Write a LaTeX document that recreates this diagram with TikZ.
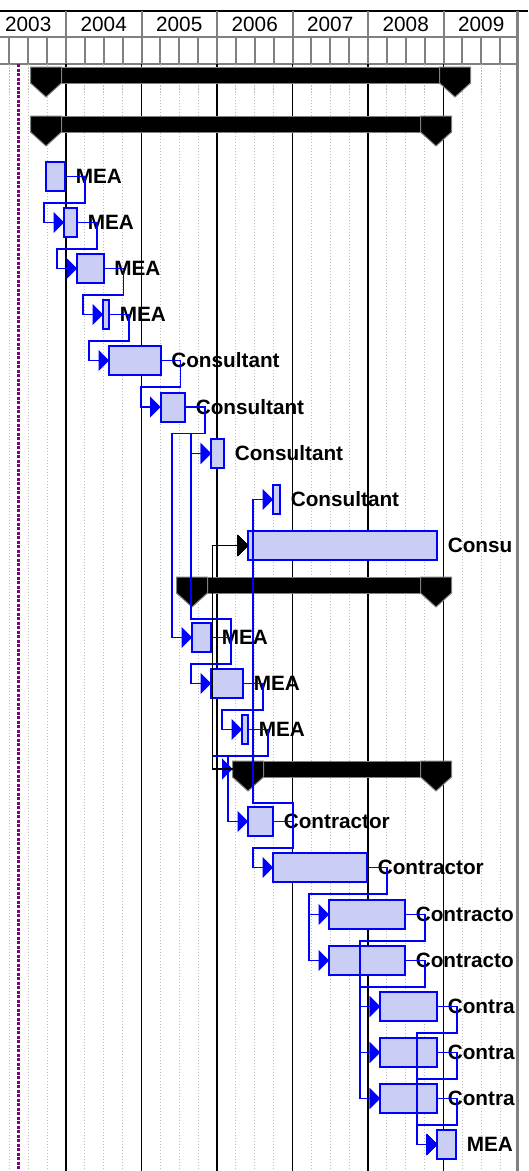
\documentclass[tikz,border=0pt]{standalone}
\usepackage{fontspec}
\setmainfont{Liberation Sans}
\usetikzlibrary{arrows.meta, calc, positioning}

\definecolor{barblue}{RGB}{0,0,255}
\definecolor{barfill}{RGB}{202,206,244}
\definecolor{gridgray}{RGB}{128,128,128}
\definecolor{todaypurple}{RGB}{128,0,128}

\tikzset{
  taskbox/.style={draw=barblue, line width=0.04cm, fill=barfill, inner sep=0pt, outer sep=0pt, minimum height=0.58cm, anchor=north west},
  sumbox/.style={fill=black, draw=gray, line width=0.02cm, inner sep=0pt, outer sep=0pt, minimum height=0.32cm, anchor=north west},
  sumcap/.style={fill=black, draw=gray, line width=0.02cm},
  tasklabel/.style={anchor=west, inner sep=0pt, font=\bfseries\fontsize{11.8}{14}\selectfont},
  yearlabel/.style={inner sep=0pt, font=\fontsize{11.8}{14}\selectfont},
  link/.style={draw=barblue, line width=0.03cm, -{Triangle[length=0.21cm,width=0.42cm]}},
  sslink/.style={draw=black, line width=0.03cm, -{Triangle[length=0.21cm,width=0.42cm]}},
}

% task bar: name, top, start, end, label
\newcommand{\taskbar}[5]{%
  \node[taskbox, minimum width={(#4-#3)*0.02cm}] (#1) at (#3,#2) {};
  \node[tasklabel] (#1-lab) at ($(#1.east)+(10.5,0)$) {#5};
}
% summary bar: name, top, start, end
\newcommand{\sumbar}[4]{%
  \node[sumbox, minimum width={(#4-#3+31)*0.02cm}] (#1) at ({#3-15.5},#2) {};
  \filldraw[sumcap] (#1.north west) -- ++(31,0) -- ++(0,16) -- ++(-15.5,14) -- ++(-15.5,-14) -- cycle;
  \filldraw[sumcap] (#1.north east) -- ++(-31,0) -- ++(0,16) -- ++(15.5,14) -- ++(15.5,-14) -- cycle;
}
% finish-start link, successor below / above
\newcommand{\fwdlink}[2]{%
  \coordinate (lnkturn) at ($(#1.south)+(0,12)$);
  \coordinate (lnkin) at ($(#2.west)+(-20,0)$);
  \draw[link] (#1.east) -- ++(20,0) |- (lnkin |- lnkturn) -- (lnkin) -- (#2.west);
}
\newcommand{\backlink}[2]{%
  \coordinate (lnkturn) at ($(#1.north)+(0,-4)$);
  \coordinate (lnkin) at ($(#2.west)+(-20,0)$);
  \draw[link] (#1.east) -- ++(20,0) |- (lnkin |- lnkturn) -- (lnkin) -- (#2.west);
}

\begin{document}
\begin{tikzpicture}[x=0.02cm, y=-0.02cm]
  \useasboundingbox (0,0) rectangle (528,1171);

  % timescale
  \draw[line width=0.04cm] (0,11) -- (528,11);
  \draw[gridgray, line width=0.04cm] (0,37) -- (517.5,37) (0,64) -- (517.5,64);
  \foreach \k in {1,...,27} {
    \pgfmathsetmacro{\qx}{-9.5+18.875*\k}
    \pgfmathtruncatemacro{\qm}{mod(\k,4)}
    \draw[gridgray, line width=0.04cm] (\qx,37) -- (\qx,64);
    \ifnum\qm=0
      \draw[gridgray, line width=0.04cm] (\qx,11) -- (\qx,37);
      \draw[line width=0.025cm] (\qx,64) -- (\qx,1171);
    \else
      \draw[gray!50, line width=0.02cm, dash pattern=on 0.03cm off 0.03cm] (\qx,64) -- (\qx,1171);
    \fi
  }
  \foreach \yr [count=\i from 0] in {2003,...,2009}
    \node[yearlabel] (y\yr) at ({28.25+75.5*\i},24.5) {\yr};
  \draw[gridgray, line width=0.06cm] (517.5,11) -- (517.5,1171);

  % status date
  \draw[todaypurple, line width=0.05cm, dash pattern=on 0.06cm off 0.03cm] (18.5,64) -- (18.5,1171);

  % summaries
  \sumbar{s0}{67}{46}{455}
  \sumbar{s1}{116}{46}{436}
  \sumbar{s11}{577}{192}{436}
  \sumbar{s15}{761}{248}{436}

  % tasks
  \taskbar{t2}{162}{46}{65}{MEA}
  \taskbar{t3}{208}{64}{77}{MEA}
  \taskbar{t4}{254}{77}{103.5}{MEA}
  \taskbar{t5}{300}{103}{109}{MEA}
  \taskbar{t6}{346}{109}{160.5}{Consultant}
  \taskbar{t7}{392.5}{160.5}{185}{Consultant}
  \taskbar{t8}{439}{211}{224}{Consultant}
  \taskbar{t9}{485}{273}{280}{Consultant}
  \taskbar{t10}{531}{248}{437}{Consu}
  \taskbar{t12}{623}{192}{211}{MEA}
  \taskbar{t13}{669}{211}{243}{MEA}
  \taskbar{t14}{715}{242}{248}{MEA}
  \taskbar{t16}{807}{248}{273}{Contractor}
  \taskbar{t17}{853}{273}{367}{Contractor}
  \taskbar{t18}{900}{329}{405}{Contracto}
  \taskbar{t19}{946}{329}{405}{Contracto}
  \taskbar{t20}{992}{380}{437}{Contra}
  \taskbar{t21}{1038}{380}{437}{Contra}
  \taskbar{t22}{1084}{380}{437}{Contra}
  \taskbar{t23}{1130}{437}{456}{MEA}

  % links
  \fwdlink{t2}{t3}
  \fwdlink{t3}{t4}
  \fwdlink{t4}{t5}
  \fwdlink{t5}{t6}
  \fwdlink{t6}{t7}
  \fwdlink{t7}{t8}
  \fwdlink{t7}{t12}
  \backlink{t12}{t8}
  \fwdlink{t12}{t13}
  \fwdlink{t13}{t14}
  \fwdlink{t14}{s15}
  \fwdlink{t14}{t16}
  \backlink{t16}{t9}
  \fwdlink{t16}{t17}
  \fwdlink{t17}{t18}
  \fwdlink{t17}{t19}
  \foreach \p in {t18,t19}
    \foreach \s in {t20,t21,t22}
      \fwdlink{\p}{\s}
  \foreach \p in {t20,t21,t22}
    \fwdlink{\p}{t23}
  \draw[sslink] (s15.west) -- ++(-20,0) |- (t10.west);
\end{tikzpicture}
\end{document}
